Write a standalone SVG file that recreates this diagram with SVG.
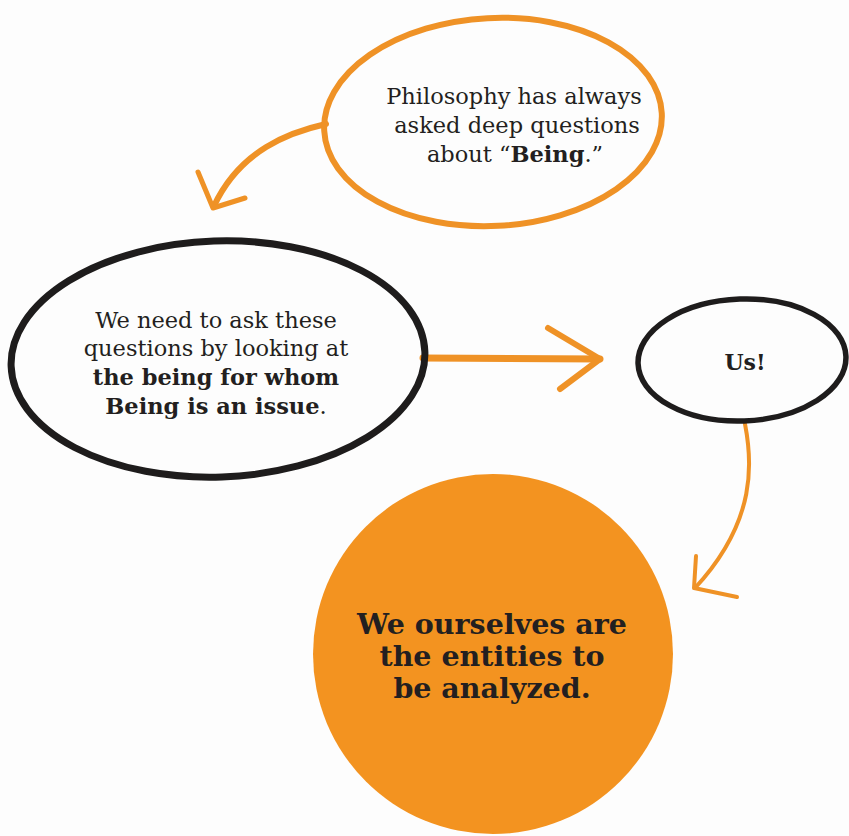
<svg xmlns="http://www.w3.org/2000/svg" width="849" height="836" viewBox="0 0 849 836">
<style>
.bg{fill:#fdfdfd}
.orng{fill:none;stroke:#ef9226;stroke-linecap:round;stroke-linejoin:round}
.blk{fill:none;stroke:#1e1c1c;stroke-linecap:round}
.t{font-family:"DejaVu Serif","Liberation Serif",serif;fill:#231f20;text-anchor:middle}
.reg{font-size:22.5px;font-weight:300}
.b{font-weight:bold}
</style>
<rect class="bg" x="0" y="0" width="849" height="836"/>
<g id="connectors">
  <path class="orng" stroke-width="6" d="M326,124 C290,132 240,150 214,206"/>
  <path class="orng" stroke-width="5" d="M198,172 L213,208 L245,198"/>
  <path class="orng" stroke-width="7" d="M423,358 L600,359"/>
  <path class="orng" stroke-width="6" d="M548,328 L600,359 L560,389"/>
  <path class="orng" stroke-width="4" d="M745,424 C752,460 758,520 695,588"/>
  <path class="orng" stroke-width="4" d="M696,556 L694,588 L737,597"/>
</g>
<g id="n1">
  <ellipse class="orng" stroke-width="6" cx="493" cy="122" rx="169" ry="104" transform="rotate(-3 493 122)"/>
  <text class="t reg" x="514" y="104">Philosophy has always</text>
  <text class="t reg" x="517" y="133">asked deep questions</text>
  <text class="t reg" x="515" y="162">about “<tspan class="b">Being</tspan>.”</text>
</g>
<g id="n2">
  <ellipse class="blk" stroke-width="7" cx="218" cy="359" rx="207" ry="118" transform="rotate(-2 218 359)"/>
  <text class="t reg" x="216" y="328">We need to ask these</text>
  <text class="t reg" x="216" y="356">questions by looking at</text>
  <text class="t reg b" x="216" y="385">the being for whom</text>
  <text class="t reg" x="216" y="414"><tspan class="b">Being is an issue</tspan>.</text>
</g>
<g id="n3">
  <ellipse class="blk" stroke-width="5.5" cx="742" cy="360" rx="104" ry="61" transform="rotate(-2 742 360)"/>
  <text class="t b" x="745" y="370" font-size="22">Us!</text>
</g>
<g id="n4">
  <circle cx="493" cy="654" r="180" fill="#f39320"/>
  <text class="t b" x="492" y="634" font-size="28.5">We ourselves are</text>
  <text class="t b" x="492" y="666" font-size="28.5">the entities to</text>
  <text class="t b" x="492" y="698" font-size="28.5">be analyzed.</text>
</g>
</svg>
